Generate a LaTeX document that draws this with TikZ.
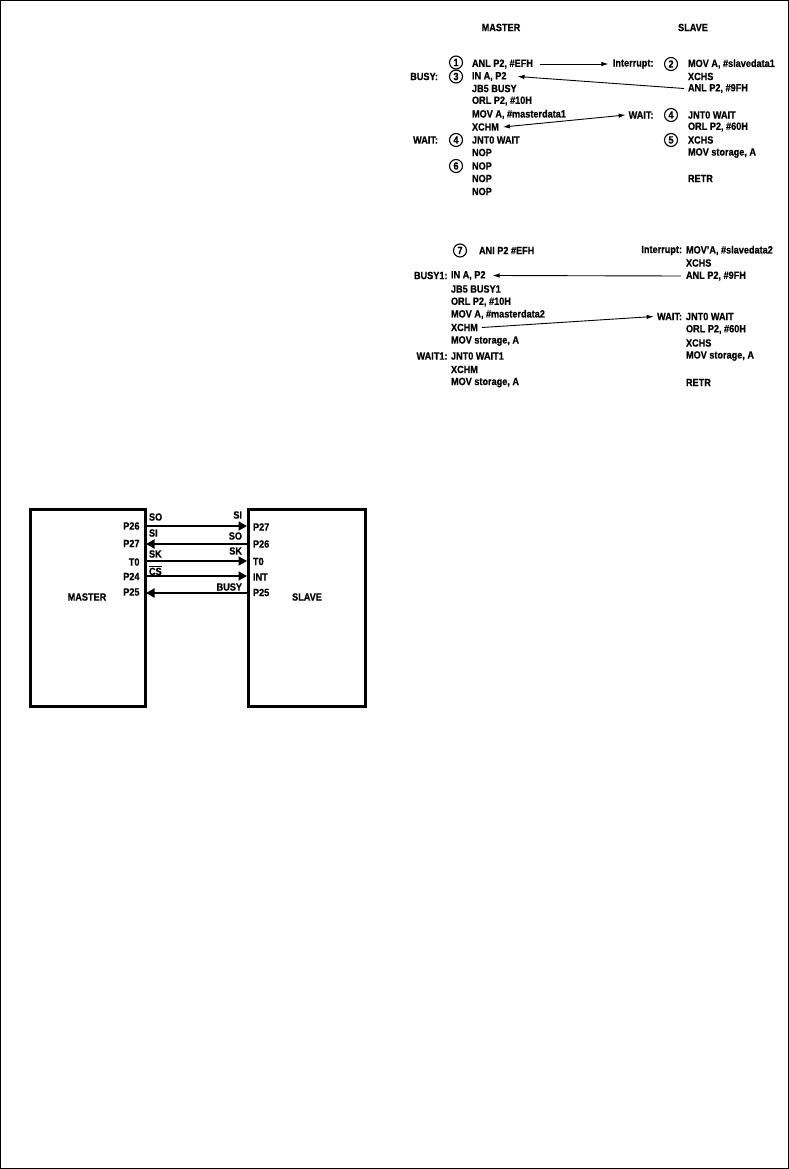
\documentclass[tikz,border=0pt]{standalone}
\usepackage{fontspec}
\setmainfont[FakeStretch=0.87,FakeBold=0.6]{Liberation Sans Bold}
\usetikzlibrary{arrows.meta}
\tikzset{
  txt/.style={inner sep=0pt,outer sep=0pt,font=\fontsize{10.5}{12}\selectfont,text=black},
  lft/.style={txt,anchor=west},
  rgt/.style={txt,anchor=east},
  mid/.style={txt,anchor=center},
  num/.style={circle,draw=black,line width=1.1pt,inner sep=0pt,minimum size=13pt,font=\fontsize{10.5}{11}\selectfont},
  codearrow/.style={line width=0.9pt,-{Latex[length=7pt,width=4.5pt]}},
  codeboth/.style={line width=0.9pt,{Latex[length=7pt,width=4.5pt]}-{Latex[length=7pt,width=4.5pt]}},
  bus/.style={line width=1.8pt,-{Triangle[length=8.5pt,width=9pt]}},
  chip/.style={draw=black,line width=3pt,inner sep=0pt,fill=white}
}
\begin{document}
\begin{tikzpicture}[x=1pt,y=-1pt]
\useasboundingbox (0,0) rectangle (789,1169);
\draw[line width=1.2pt] (0.6,0.6) rectangle (788.4,1168.2);
% block 1
\node[mid] (hm) at (501,27.5) {MASTER};
\node[mid] (hs) at (693,27.5) {SLAVE};
\node[num] (c1) at (456,62.5) {1};
\node[num] (c3) at (456,76.5) {3};
\node[num] (c4) at (456,140) {4};
\node[num] (c6) at (456,166) {6};
\node[rgt] (busy) at (438,76.5) {BUSY:};
\node[rgt] (wait) at (438,140) {WAIT:};
\node[lft] (a1) at (472,64) {ANL P2, \#EFH};
\node[lft] (a2) at (472,76.5) {IN A, P2};
\node[lft] (a3) at (472,88.5) {JB5 BUSY};
\node[lft] (a4) at (472,101) {ORL P2, \#10H};
\node[lft] (a5) at (472,114.5) {MOV A, \#masterdata1};
\node[lft] (a6) at (472,127) {XCHM};
\node[lft] (a7) at (472,140) {JNT0 WAIT};
\node[lft] (a8) at (472,152.5) {NOP};
\node[lft] (a9) at (472,166) {NOP};
\node[lft] (a10) at (472,178.5) {NOP};
\node[lft] (a11) at (472,191.5) {NOP};
\node[rgt] (intr) at (653.5,64) {Interrupt:};
\node[rgt] (wt) at (653.5,115) {WAIT:};
\node[num] (c2) at (671,64) {2};
\node[num] (c4s) at (671,115) {4};
\node[num] (c5) at (671,140) {5};
\node[lft] (b1) at (688,64) {MOV A, \#slavedata1};
\node[lft] (b2) at (688,76.5) {XCHS};
\node[lft] (b3) at (688,88.5) {ANL P2, \#9FH};
\node[lft] (b4) at (688,115) {JNT0 WAIT};
\node[lft] (b5) at (688,127) {ORL P2, \#60H};
\node[lft] (b6) at (688,140) {XCHS};
\node[lft] (b7) at (688,153) {MOV storage, A};
\node[lft] (b8) at (688,178.5) {RETR};
\draw[codearrow] ([xshift=7pt]a1.east) -- ([xshift=-4.5pt]intr.west);
\draw[codearrow] ([xshift=-4pt]b3.west) -- ([xshift=11pt]a2.east);
\draw[codeboth] ([xshift=4pt]a6.east) -- ([xshift=-3pt]wt.west);
% block 2
\node[num] (c7) at (460,250.5) {7};
\node[lft] (d0) at (479,250.5) {ANI P2 \#EFH};
\node[rgt] (busyb) at (447.5,275.5) {BUSY1:};
\node[rgt] (waitb) at (447.5,356) {WAIT1:};
\node[lft] (d1) at (451,275.5) {IN A, P2};
\node[lft] (d2) at (451,289) {JB5 BUSY1};
\node[lft] (d3) at (451,302) {ORL P2, \#10H};
\node[lft] (d4) at (451,314.5) {MOV A, \#masterdata2};
\node[lft] (d5) at (451,327.5) {XCHM};
\node[lft] (d6) at (451,341) {MOV storage, A};
\node[lft] (d7) at (451,356) {JNT0 WAIT1};
\node[lft] (d8) at (451,369.5) {XCHM};
\node[lft] (d9) at (451,382.5) {MOV storage, A};
\node[rgt] (intrb) at (682,250.5) {Interrupt:};
\node[rgt] (wtb) at (682,316.5) {WAIT:};
\node[lft] (e1) at (686,250.5) {MOV'A, \#slavedata2};
\node[lft] (e2) at (686,263) {XCHS};
\node[lft] (e3) at (686,276) {ANL P2, \#9FH};
\node[lft] (e4) at (686,316.5) {JNT0 WAIT};
\node[lft] (e5) at (686,329.5) {ORL P2, \#60H};
\node[lft] (e6) at (686,343) {XCHS};
\node[lft] (e7) at (686,356) {MOV storage, A};
\node[lft] (e8) at (686,382.5) {RETR};
\draw[codearrow] ([xshift=-5pt]e3.west) -- ([xshift=7pt]d1.east);
\draw[codearrow] ([xshift=4pt]d5.east) -- ([xshift=-3.5pt]wtb.west);
% chips
\node[chip,minimum width=115pt,minimum height=197pt] (master) at (87.5,607.5) {};
\node[chip,minimum width=117pt,minimum height=197pt] (slave) at (306.5,607.5) {};
\node[mid] (mn) at (87,597) {MASTER};
\node[mid] (sn) at (307,597) {SLAVE};
\node[rgt] (p26) at (139.5,526) {P26};
\node[rgt] (p27) at (139.5,543.5) {P27};
\node[rgt] (t0) at (139.5,562) {T0};
\node[rgt] (p24) at (139.5,576.5) {P24};
\node[rgt] (p25) at (139.5,592) {P25};
\node[lft] (sp27) at (253,527) {P27};
\node[lft] (sp26) at (253,544) {P26};
\node[lft] (st0) at (253,561.5) {T0};
\node[lft] (sint) at (253,577) {INT};
\node[lft] (sp25) at (253,592.5) {P25};
\node[lft] (so) at (149,517) {SO};
\node[lft] (si) at (149,533) {SI};
\node[lft] (sk) at (149,554) {SK};
\node[lft] (cs) at (149,570.5) {$\overline{\mbox{CS}}$};
\node[rgt] (si2) at (242,515) {SI};
\node[rgt] (so2) at (242,536) {SO};
\node[rgt] (sk2) at (242,551) {SK};
\node[rgt] (busy2) at (242,587) {BUSY};
\coordinate (l1) at (146,526); \coordinate (r1) at (247,526);
\coordinate (l2) at (146,544); \coordinate (r2) at (247,544);
\coordinate (l3) at (146,561); \coordinate (r3) at (247,561);
\coordinate (l4) at (146,576); \coordinate (r4) at (247,576);
\coordinate (l5) at (146,593); \coordinate (r5) at (247,593);
\draw[bus] (l1) -- (r1);
\draw[bus] (r2) -- (l2);
\draw[bus] (l3) -- (r3);
\draw[bus] (l4) -- (r4);
\draw[bus] (r5) -- (l5);
\end{tikzpicture}
\end{document}
